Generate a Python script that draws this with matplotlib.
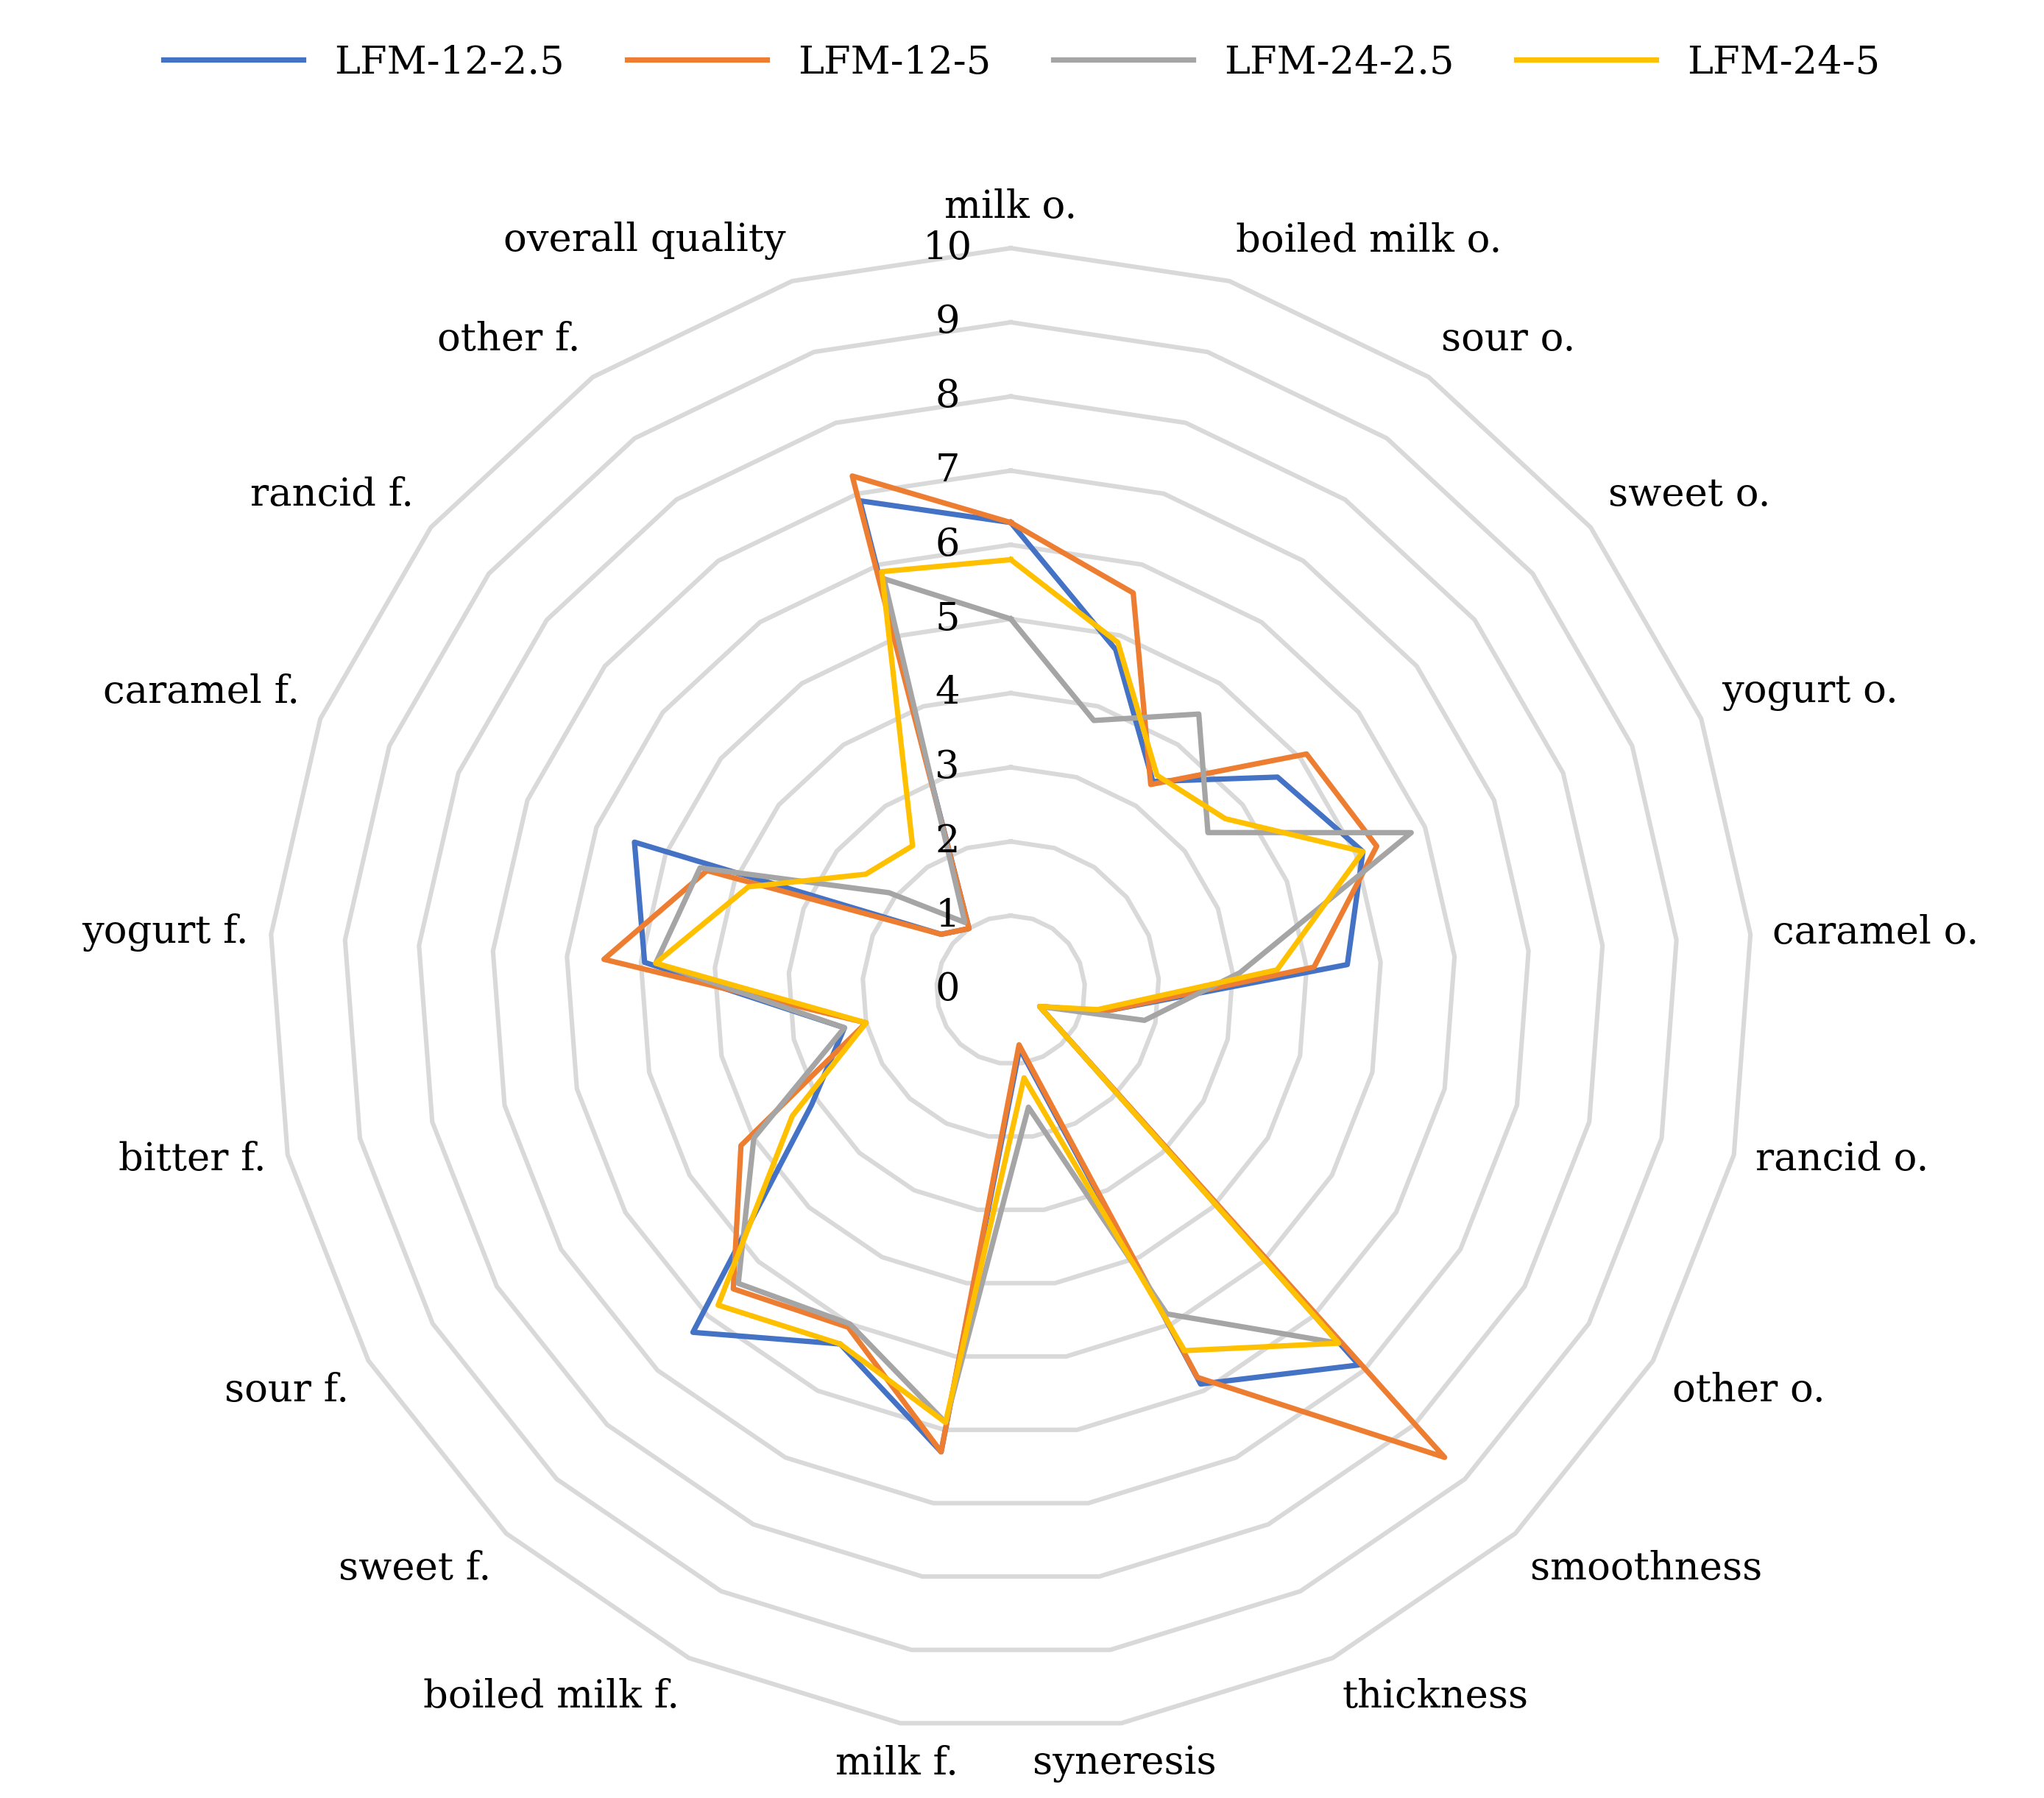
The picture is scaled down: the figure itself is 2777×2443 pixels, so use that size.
import numpy as np
import matplotlib.pyplot as plt

categories = ["milk o.", "boiled milk o.", "sour o.", "sweet o.", "yogurt o.", "caramel o.",
              "rancid o.", "other o.", "smoothness", "thickness", "syneresis", "milk f.",
              "boiled milk f.", "sweet f.", "sour f.", "bitter f.", "yogurt f.", "caramel f.",
              "rancid f.", "other f.", "overall quality"]

lfm_12_25 = [6.3, 4.8, 3.4, 4.6, 5.1, 4.55, 1.3, 0.45, 6.9, 5.9, 0.8, 6.3,
             5.3, 6.3, 3.1, 2.3, 4.95, 5.45, 1.2, 1.0, 6.9]
lfm_12_5 = [6.3, 5.6, 3.35, 5.1, 5.3, 4.1, 1.3, 0.45, 8.6, 5.8, 0.75, 6.3,
            5.05, 5.5, 4.2, 2.0, 5.5, 4.4, 1.2, 1.0, 7.25]
lfm_24_25 = [5.0, 3.8, 4.5, 3.4, 5.8, 3.1, 1.85, 0.45, 6.5, 4.85, 1.6, 5.9,
             5.0, 5.4, 4.0, 2.3, 4.8, 4.5, 2.1, 1.1, 5.8]
lfm_24_5 = [5.8, 4.9, 3.5, 3.7, 5.1, 3.6, 1.2, 0.45, 6.5, 5.4, 1.2, 5.9,
            5.3, 5.8, 3.4, 2.0, 4.8, 3.8, 2.5, 2.35, 5.9]

series = {"LFM-12-2.5": (lfm_12_25, "#4472C4"),
          "LFM-12-5": (lfm_12_5, "#ED7D31"),
          "LFM-24-2.5": (lfm_24_25, "#A5A5A5"),
          "LFM-24-5": (lfm_24_5, "#FFC000")}

font = "DejaVu Serif"
n = len(categories)
theta = np.arange(n) * 2 * np.pi / n

fig = plt.figure(figsize=(13.885, 12.215), dpi=200)
ax = fig.add_axes([0.131, 0.037, 0.727, 0.825], projection="polar")
ax.set_theta_offset(np.pi / 2)
ax.set_theta_direction(-1)
ax.set_ylim(0, 10)
ax.grid(False)
ax.set_xticks([])
ax.set_yticks([])
ax.spines["polar"].set_visible(False)

# polygon grid
tc = np.append(theta, theta[0])
for k in range(1, 11):
    ax.plot(tc, [k] * len(tc), color="#D9D9D9", lw=2.2, zorder=1, clip_on=False)

for name, (vals, col) in series.items():
    v = list(vals) + [vals[0]]
    ax.plot(tc, v, color=col, lw=2.6, label=name, zorder=3)

for k in range(0, 11):
    ax.annotate(str(k), xy=(0, k), xytext=(-31, 0), textcoords="offset points",
                ha="center", va="center", fontsize=19, family=font, zorder=4)

for t, lab in zip(theta, categories):
    s, c = np.sin(t), np.cos(t)
    ha = "center" if abs(s) < 0.15 else ("left" if s > 0 else "right")
    va = "center" if abs(c) < 0.3 else ("bottom" if c > 0 else "top")
    ax.text(t, 10.3, lab, ha=ha, va=va, fontsize=19, family=font)

fig.legend(loc="upper center", ncol=4, frameon=False, bbox_to_anchor=(0.5, 0.995),
           prop={"family": font, "size": 19}, handlelength=3.6, columnspacing=1.6)

fig.savefig("out.png")
